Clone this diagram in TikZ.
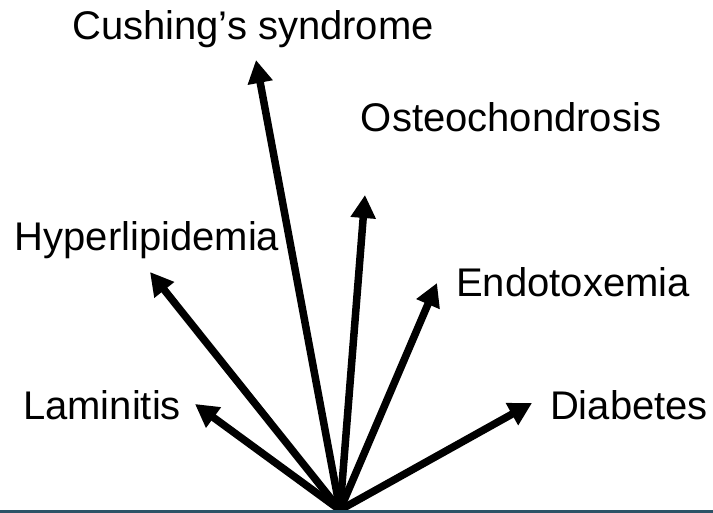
\documentclass[tikz,border=0pt]{standalone}
\usepackage{fontspec}
\setmainfont{Liberation Sans}
\usetikzlibrary{arrows.meta}
\definecolor{baseteal}{RGB}{44,82,102}

\begin{document}
\begin{tikzpicture}[x=1pt, y=-1pt,
                    cause/.style={draw, line width=7.5pt, -{Triangle[length=23pt, width=24pt]}},
                    disease/.style={font=\fontsize{40}{48}\selectfont, anchor=base, inner sep=0pt}]
\useasboundingbox (0,0) rectangle (713,513);
\coordinate (root) at (340,510);
\coordinate (tipCush) at (256,60);
\coordinate (tipOsteo) at (365,195);
\coordinate (tipHyper) at (150,272);
\coordinate (tipEndo) at (437,283);
\coordinate (tipLamin) at (195,404);
\coordinate (tipDiab) at (532,403);
\node[disease] (cush) at (253,40) {Cushing’s syndrome};
\node[disease] (osteo) at (511,132) {Osteochondrosis};
\node[disease] (hyper) at (147,251) {Hyperlipidemia};
\node[disease] (endo) at (573,297) {Endotoxemia};
\node[disease] (lamin) at (102,420) {Laminitis};
\node[disease] (diab) at (629,420) {Diabetes};
\draw[cause] (root) -- (tipLamin);
\draw[cause] (root) -- (tipHyper);
\draw[cause] (root) -- (tipCush);
\draw[cause] (root) -- (tipOsteo);
\draw[cause] (root) -- (tipEndo);
\draw[cause] (root) -- (tipDiab);
\draw[baseteal, line width=3pt] (0,511.5) -- (713,511.5);
\end{tikzpicture}
\end{document}
